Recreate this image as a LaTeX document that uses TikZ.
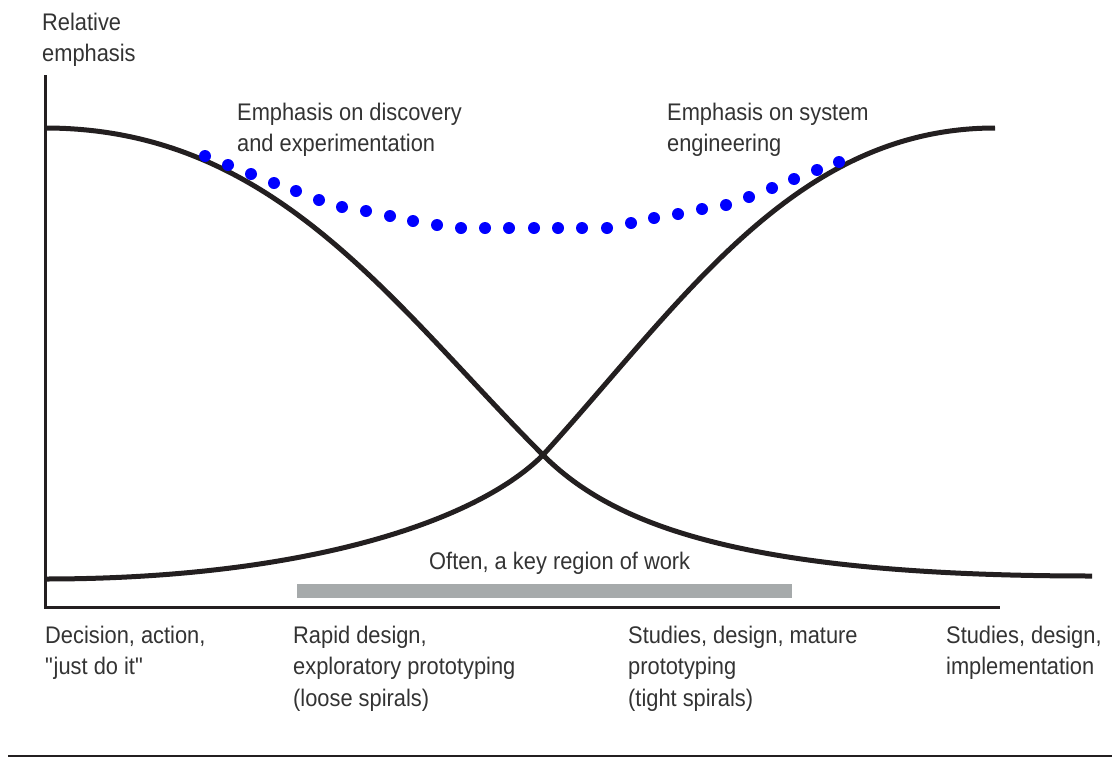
\documentclass[tikz,border=0pt]{standalone}
\usepackage{fontspec}
\setmainfont{Liberation Sans}[FakeStretch=0.91]

\definecolor{inkblack}{RGB}{35,31,32}
\definecolor{inkgray}{RGB}{51,51,51}
\definecolor{bargray}{RGB}{166,170,171}

\begin{document}
\begin{tikzpicture}[x=1pt,y=-1pt,
	lbl/.style={anchor=base west,inner sep=0pt,align=left,text=inkgray,
		font=\fontsize{24}{31.5}\selectfont},
	curve/.style={draw=inkblack,line width=5pt},
	axis/.style={draw=inkblack,line width=3pt},
	bluedot/.style={fill=blue}]
	\useasboundingbox (0,0) rectangle (1112,758);

	%les axes
	\coordinate (top) at (45,75);
	\coordinate (origin) at (45,607);
	\coordinate (right) at (1000,607);
	\draw[axis] (top) -- (origin) -- (right);

	%extremites des courbes et croisement
	\coordinate (disc start) at (45,128);
	\coordinate (disc end) at (1092,576);
	\coordinate (sys start) at (45,579);
	\coordinate (sys end) at (995,128);
	\coordinate (cross) at (543,455);

	%courbe descendante : decouverte
	\draw[curve] (disc start) .. controls (275,128) and (393,305) .. (cross)
		.. controls (613,525) and (742,576) .. (disc end);

	%courbe montante : ingenierie systeme
	\draw[curve] (sys start) .. controls (295,579) and (473,525) .. (cross)
		.. controls (683,301) and (795,128) .. (sys end);

	%les points bleus
	\foreach \px/\py in {205/156,228/165,251/174,274/183,296/191,319/200,
		342/207,366/211,390/216,413/221,437/225,461/228,485/228,509/228,
		534/228,558/228,582/228,607/228,631/223,654/218,678/214,702/209,
		726/205,749/197,772/188,794/179,817/170,839/162}
		\fill[bluedot] (\px,\py) circle (6);

	%la zone de travail
	\fill[bargray] (297,584) rectangle (792,598);
	\node (often) at (429,569) [lbl] {Often, a key region of work};

	%les textes (ancre sur la derniere ligne)
	\node (yaxis) at (42,61.5) [lbl] {Relative\\emphasis};
	\node (disc) at (237,151.5) [lbl] {Emphasis on discovery\\and experimentation};
	\node (sys) at (667,151.5) [lbl] {Emphasis on system\\engineering};

	\node (lab 1) at (45,674.5) [lbl] {Decision, action,\\\textquotedbl just do it\textquotedbl};
	\node (lab 2) at (293,706) [lbl] {Rapid design,\\exploratory prototyping\\(loose spirals)};
	\node (lab 3) at (628,706) [lbl] {Studies, design, mature\\prototyping\\(tight spirals)};
	\node (lab 4) at (946,674.5) [lbl] {Studies, design,\\implementation};

	%le trait du bas
	\coordinate (rule l) at (8,756);
	\coordinate (rule r) at (1112,756);
	\draw[inkblack,line width=2pt] (rule l) -- (rule r);
\end{tikzpicture}
\end{document}
